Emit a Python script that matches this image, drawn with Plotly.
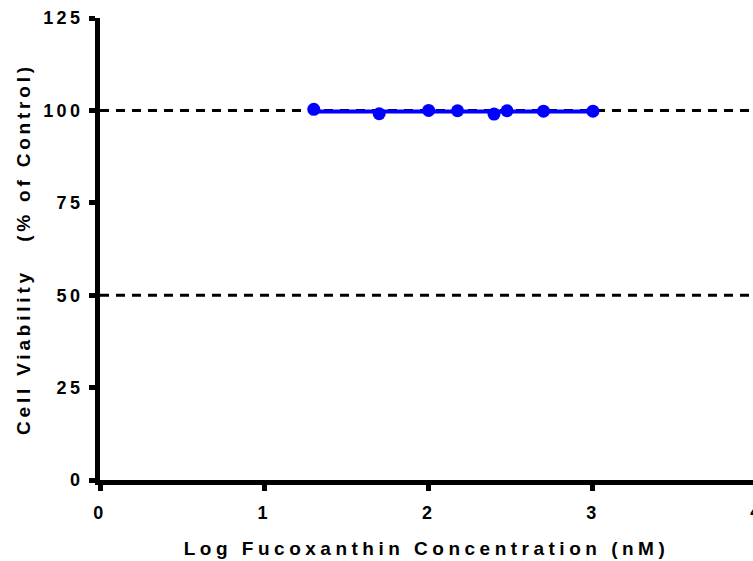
import plotly.graph_objects as go

# ---- data ----
log_conc = [1.301, 1.699, 2.000, 2.176, 2.398, 2.477, 2.699, 3.000]   # Log Fucoxanthin (nM)
viability = [100.3, 99.1, 100.0, 99.9, 99.0, 99.9, 99.8, 99.8]        # % of control
ref_levels = [100, 50]
x_ticks = [0, 1, 2, 3]
y_ticks = [0, 25, 50, 75, 100, 125]

X_MIN, X_MAX = 0, 3.974
Y_MIN, Y_MAX = 0, 125

FONT = "Liberation Sans, Arial, sans-serif"
BLUE = "#0000FF"

fit_value = sum(viability) / len(viability)

fig = go.Figure()

for lvl in ref_levels:
    fig.add_trace(go.Scatter(
        x=[X_MIN, X_MAX], y=[lvl, lvl], mode="lines",
        line=dict(color="black", width=3, dash="9px,7px"),
        hoverinfo="skip", showlegend=False, cliponaxis=True))

fig.add_trace(go.Scatter(
    x=[min(log_conc), max(log_conc)], y=[fit_value, fit_value], mode="lines",
    line=dict(color=BLUE, width=4), showlegend=False))

fig.add_trace(go.Scatter(
    x=log_conc, y=viability, mode="markers",
    marker=dict(color=BLUE, size=13), showlegend=False, cliponaxis=False))

axis_common = dict(
    showline=True, linewidth=5, linecolor="black",
    ticks="outside", ticklen=6, tickwidth=5, tickcolor="black",
    showgrid=False, zeroline=False,
    tickfont=dict(family=FONT, size=18, color="black", weight="bold"),
)

fig.update_layout(
    width=753, height=561,
    margin=dict(l=100, r=0, t=18, b=81),
    paper_bgcolor="white", plot_bgcolor="white",
    xaxis=dict(range=[X_MIN, X_MAX], tickvals=x_ticks, ticklabelstandoff=6,
               title=dict(text="Log Fucoxanthin Concentration (nM)", standoff=22,
                          font=dict(family=FONT, size=19, color="black", weight="bold")),
               **axis_common),
    yaxis=dict(range=[Y_MIN, Y_MAX], tickvals=y_ticks, ticklabelstandoff=2,
               title=dict(text="Cell Viability\u00a0\u00a0\u00a0(% of Control)", standoff=19,
                          font=dict(family=FONT, size=19, color="black", weight="bold")),
               **axis_common),
    annotations=[dict(text="4", xref="paper", yref="paper", x=4 / X_MAX, y=0,
                      xanchor="center", yanchor="middle", yshift=-32, showarrow=False,
                      font=dict(family=FONT, size=18, color="black", weight="bold"))],
)

post = """
var s=document.createElement('style');
s.textContent='.xtick text,.ytick text,.annotation-text{letter-spacing:3.4px}.xtitle{letter-spacing:4.5px}.ytitle{letter-spacing:3.8px}';
document.head.appendChild(s);
"""

fig.write_html("out.html", post_script=post)
